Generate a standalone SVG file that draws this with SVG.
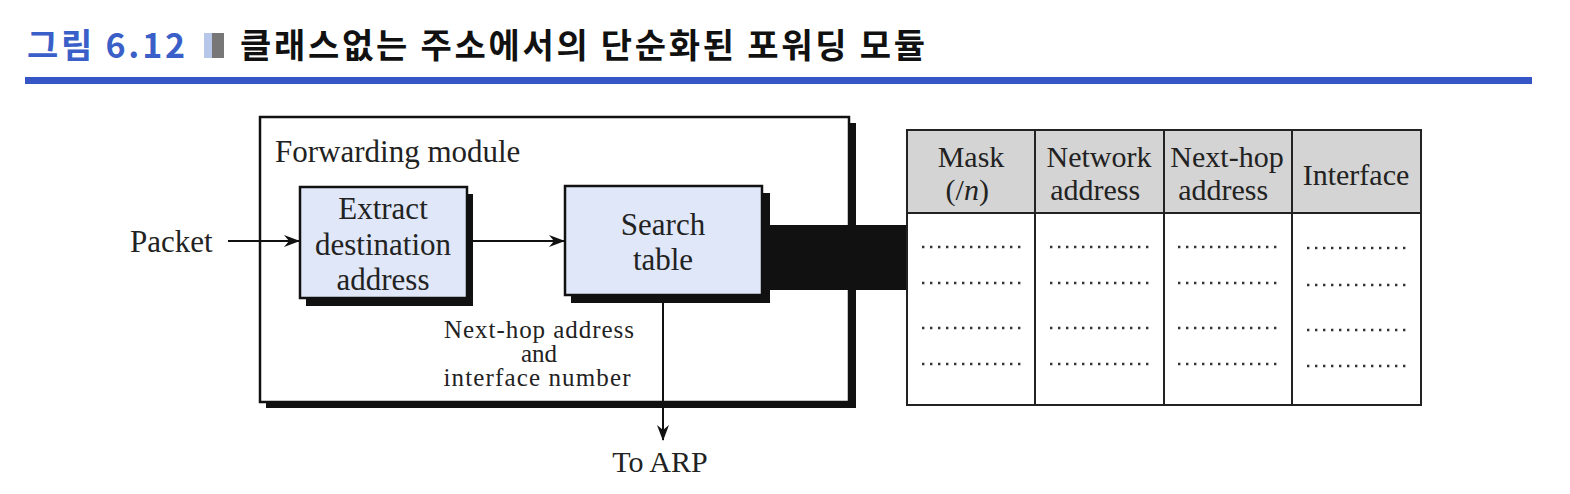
<svg xmlns="http://www.w3.org/2000/svg" width="1570" height="494" viewBox="0 0 1570 494">
<defs>
<style>
.t{font-family:"Liberation Serif",serif;fill:#222}
.box{fill:#dfe7f8;stroke:#111;stroke-width:2.5}
.sh{fill:#111}
.ln{stroke:#111;stroke-width:2;fill:none}
.dots{stroke:#333;stroke-width:2.4;stroke-dasharray:2.4 5.6;fill:none}
.kr{font-family:"Noto Sans CJK KR",sans-serif;font-weight:bold;font-size:34px}
</style>
<marker id="ah" viewBox="0 0 16 12" refX="15" refY="6" markerWidth="16" markerHeight="12" markerUnits="userSpaceOnUse" orient="auto">
<path d="M0,0 L16,6 L0,12 L5,6 Z" fill="#111"/>
</marker>
</defs>
<rect width="1570" height="494" fill="#fff"/>
<g id="title">
<text x="27" y="58" class="kr" fill="#3a5fc8" textLength="158">그림 6.12</text>
<rect x="204" y="33" width="8" height="25" fill="#b7c7ea"/>
<rect x="212" y="33" width="12" height="25" fill="#777"/>
<text x="240" y="58" class="kr" fill="#111" textLength="685">클래스없는 주소에서의 단순화된 포워딩 모듈</text>
<rect x="25" y="77" width="1507" height="7" fill="#3556c4"/>
</g>
<g id="forwarding-module">
<rect x="266" y="123" width="590" height="285" class="sh"/>
<rect x="260" y="117" width="589" height="285" fill="#fff" stroke="#111" stroke-width="2.5"/>
<text x="275" y="162" class="t" font-size="31">Forwarding module</text>
</g>
<g id="connectors">
<rect x="762" y="225" width="148" height="65" fill="#111"/>
<line x1="228" y1="241" x2="299" y2="241" class="ln" marker-end="url(#ah)"/>
<line x1="473" y1="241" x2="564" y2="241" class="ln" marker-end="url(#ah)"/>
<line x1="663" y1="296" x2="663" y2="440" class="ln" marker-end="url(#ah)"/>
</g>
<g id="extract">
<rect x="306" y="194" width="167" height="112" class="sh"/>
<rect x="300" y="187" width="167" height="111" class="box"/>
<text class="t" font-size="31" text-anchor="middle"><tspan x="383" y="219">Extract</tspan><tspan x="383" y="255">destination</tspan><tspan x="383" y="290">address</tspan></text>
</g>
<g id="search">
<rect x="571" y="193" width="199" height="110" class="sh"/>
<rect x="565" y="186" width="197" height="109" class="box"/>
<text class="t" font-size="31" text-anchor="middle"><tspan x="663" y="235">Search</tspan><tspan x="663" y="270">table</tspan></text>
</g>
<g id="labels">
<text class="t" font-size="31" x="130" y="252">Packet</text>
<text class="t" font-size="25" text-anchor="middle" x="539" y="338" textLength="190">Next-hop address</text>
<text class="t" font-size="25" text-anchor="middle" x="539" y="362">and</text>
<text class="t" font-size="25" text-anchor="middle" x="537" y="386" textLength="187">interface number</text>
<text class="t" font-size="30" x="660" y="472" text-anchor="middle">To ARP</text>
</g>
<g id="table">
<rect x="907" y="130" width="514" height="83" fill="#d4d4d4" stroke="#222" stroke-width="2"/>
<rect x="907" y="213" width="514" height="192" fill="#fff" stroke="#222" stroke-width="2"/>
<line x1="1035" y1="130" x2="1035" y2="405" stroke="#222" stroke-width="2"/>
<line x1="1164" y1="130" x2="1164" y2="405" stroke="#222" stroke-width="2"/>
<line x1="1292" y1="130" x2="1292" y2="405" stroke="#222" stroke-width="2"/>
<text class="t" font-size="30" text-anchor="middle">
<tspan x="971" y="167">Mask</tspan><tspan x="971" y="200">(/<tspan font-style="italic">n</tspan>)</tspan>
<tspan x="1099" y="167">Network</tspan><tspan x="1099" y="200">address</tspan>
<tspan x="1227" y="167">Next-hop</tspan><tspan x="1227" y="200">address</tspan>
<tspan x="1356" y="185">Interface</tspan>
</text>
<path class="dots" d="M922,247H1022M922,283H1022M922,328H1022M922,364H1022M1050,247H1150M1050,283H1150M1050,328H1150M1050,364H1150M1178,247H1278M1178,283H1278M1178,328H1278M1178,364H1278M1307,248H1407M1307,285H1407M1307,330H1407M1307,366H1407"/>
</g>
</svg>
